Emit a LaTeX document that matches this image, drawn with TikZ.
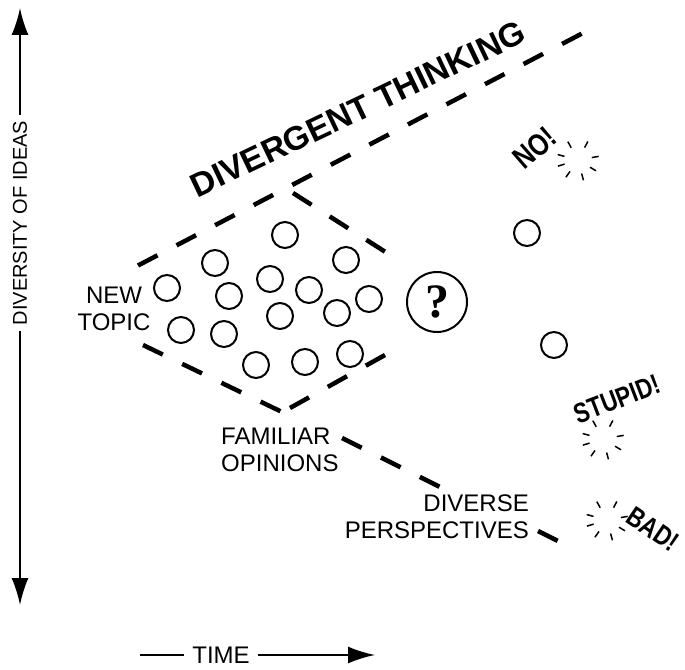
\documentclass[tikz,border=0pt]{standalone}
\usepackage{fontspec}
\setsansfont{Liberation Sans}
\newfontfamily\askfont{Liberation Serif}
\usetikzlibrary{arrows.meta}

\begin{document}
\begin{tikzpicture}[x=1pt, y=-1pt, >={Latex[length=27pt, width=17pt]},
  every node/.style={font=\sffamily},
  lbl/.style={font=\sffamily\fontsize{24}{27}\selectfont, inner sep=0pt},
  heading/.style={font=\sffamily\bfseries\fontsize{33.5}{34}\selectfont, inner sep=0pt},
  shout/.style={font=\sffamily\bfseries\fontsize{28}{28}\selectfont, inner sep=0pt, xscale=0.8},
  fence/.style={line width=4.5pt, dash pattern=on 22pt off 21.5pt},
  idea/.style={draw, circle, line width=2pt, minimum size=26pt, inner sep=0pt},
  axisline/.style={line width=2pt},
  burst/.pic={\foreach \a in {119,62,165,10,197,-31,235,285}
    \draw[line width=1.5pt] (\a:14pt) -- (\a:21pt);}]
  \useasboundingbox (0,0) rectangle (685,669);

  % axes
  \node[font=\sffamily\fontsize{20}{20}\selectfont, rotate=90, inner sep=6pt] (ylabel) at (20,223) {DIVERSITY OF IDEAS};
  \coordinate (ytop) at (20,8);
  \coordinate (ybot) at (20,605);
  \draw[axisline, ->] (ylabel.east) -- (ytop);
  \draw[axisline, ->] (ylabel.west) -- (ybot);
  \node[lbl, inner sep=8pt] (xlabel) at (221,655) {TIME};
  \coordinate (xstart) at (140,655);
  \coordinate (xend) at (375,655);
  \draw[axisline] (xstart) -- (xlabel.west);
  \draw[axisline, ->] (xlabel.east) -- (xend);

  % dashed funnel
  \coordinate (upA) at (138,265.5);
  \coordinate (upB) at (583,33);
  \coordinate (rimA) at (293,193);
  \coordinate (rimB) at (387,253);
  \coordinate (rimC) at (385,355);
  \coordinate (rimD) at (290,408);
  \coordinate (lowA) at (143,345);
  \coordinate (lowB) at (282,412);
  \coordinate (lowC) at (342,438);
  \coordinate (lowD) at (440,487);
  \coordinate (lowE) at (538,531);
  \coordinate (lowF) at (560,542);
  \draw[fence] (upA) -- (upB);
  \draw[fence] (rimA) -- (rimB);
  \draw[fence] (rimC) -- (rimD);
  \draw[fence] (lowA) -- (lowB);
  \draw[fence] (lowC) -- (lowD);
  \draw[fence] (lowE) -- (lowF);

  \node[heading, rotate=25.5] (heading) at (358,109) {DIVERGENT THINKING};

  % ideas
  \node[idea] (idea1) at (285,235) {};
  \node[idea] (idea2) at (215,263) {};
  \node[idea] (idea3) at (346,260) {};
  \node[idea] (idea4) at (270,279) {};
  \node[idea] (idea5) at (167,288) {};
  \node[idea] (idea6) at (229,296) {};
  \node[idea] (idea7) at (309,290) {};
  \node[idea] (idea8) at (369,299) {};
  \node[idea] (idea9) at (280,316) {};
  \node[idea] (idea10) at (337,313) {};
  \node[idea] (idea11) at (181,330) {};
  \node[idea] (idea12) at (224,334) {};
  \node[idea] (idea13) at (256,365) {};
  \node[idea] (idea14) at (305,362) {};
  \node[idea] (idea15) at (350,354) {};
  \node[idea] (idea16) at (527,233) {};
  \node[idea] (idea17) at (554,345) {};
  \node[draw, circle, line width=2pt, minimum size=60pt, inner sep=0pt, font=\askfont\bfseries\fontsize{48}{48}\selectfont] (ask) at (437,302) {?};

  % labels
  \node[lbl, align=center] (newtopic) at (114,309) {NEW\\TOPIC};
  \node[lbl, align=left, anchor=west] (familiar) at (221,449.5) {FAMILIAR\\OPINIONS};
  \node[lbl, align=right, anchor=east] (diverse) at (529,516.5) {DIVERSE\\PERSPECTIVES};

  % reactions
  \node[rotate=41, shout, font=\sffamily\bfseries\fontsize{31}{31}\selectfont] (no) at (535,148) {NO!};
  \node[rotate=21, shout] (stupid) at (617,399) {STUPID!};
  \node[rotate=-34, shout] (bad) at (653,529) {BAD!};
  \pic at (578,160) {burst};
  \pic at (603,439) {burst};
  \pic at (607,520) {burst};
\end{tikzpicture}
\end{document}
